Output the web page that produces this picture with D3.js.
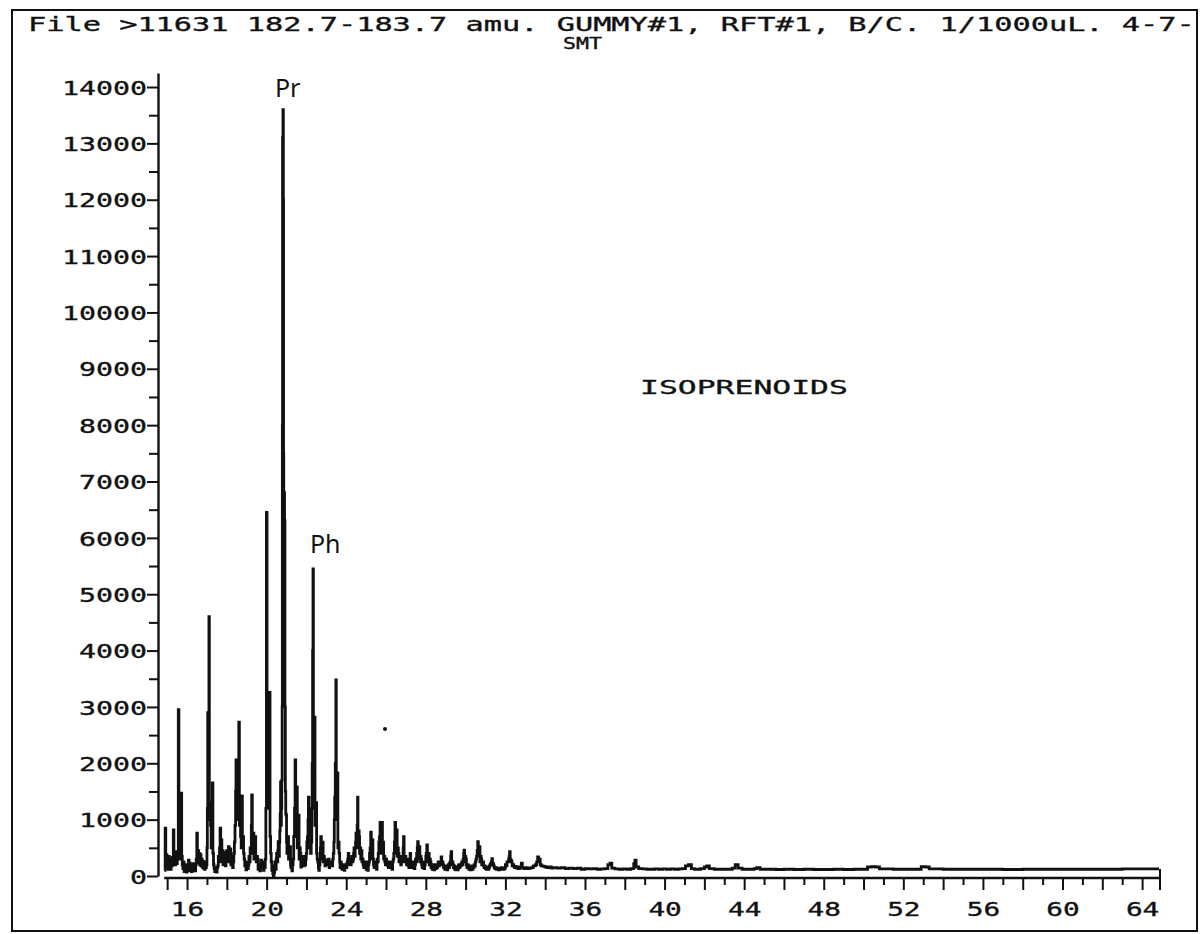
<!DOCTYPE html>
<html>
<head>
<meta charset="utf-8">
<script src="https://cdn.jsdelivr.net/npm/d3@7/dist/d3.min.js"></script>
<style>
  html, body { margin: 0; padding: 0; background: #fff; }
  svg { display: block; }
  .plot-text { font-family: "DejaVu Sans Mono", "Liberation Mono", monospace; fill: #111; stroke: #111; stroke-width: 0.35px; }
</style>
</head>
<body>
<svg id="chart" width="1202" height="934"></svg>
<script>
// ---- Header and annotations ----
const titleLine1 = "File >11631  182.7-183.7 amu. GUMMY#1, RFT#1, B/C. 1/1000uL. 4-7-";
const titleLine2 = "SMT";
const annotationText = "ISOPRENOIDS";
const peakLabels = [
  { text: "Pr", t: 20.82, v: 13600, dx: -8, dy: -13 },
  { text: "Ph", t: 22.33, v: 5450, dx: -3, dy: -16 }
];

// ---- Axis ticks ----
const yMajorTicks = [0, 1000, 2000, 3000, 4000, 5000, 6000, 7000, 8000, 9000, 10000, 11000, 12000, 13000, 14000];
const yMinorTicks = [500, 1500, 2500, 3500, 4500, 5500, 6500, 7500, 8500, 9500, 10500, 11500, 12500, 13500];
const xLongTicks = [15, 16, 18, 20, 22, 24, 26, 28, 30, 32, 34, 36, 38, 40, 42, 44, 46, 48, 50, 52, 54, 56, 58, 60, 62, 64];
const xShortTicks = [17, 19, 21, 23, 25, 27, 29, 31, 33, 35, 37, 39, 41, 43, 45, 47, 49, 51, 53, 55, 57, 59, 61, 63];
const xTickLabels = [16, 20, 24, 28, 32, 36, 40, 44, 48, 52, 56, 60, 64];

// ---- Ion trace, m/z 182.7-183.7: [retention time (min), abundance] ----
const traceEarly = [
  [14.86, 100], [14.90, 850], [14.93, 260], [14.96, 380], [14.99, 160], [15.02, 300], [15.05, 120],
  [15.08, 350], [15.11, 140], [15.14, 260], [15.17, 120], [15.20, 300], [15.23, 180], [15.26, 330],
  [15.29, 200], [15.31, 820], [15.34, 250], [15.37, 400], [15.40, 200], [15.43, 350], [15.45, 430],
  [15.48, 220], [15.51, 380], [15.53, 300], [15.56, 2950], [15.59, 600], [15.62, 380], [15.65, 500],
  [15.68, 300], [15.70, 1470], [15.73, 350], [15.76, 200], [15.79, 130], [15.82, 250], [15.85, 80],
  [15.88, 160], [15.91, 90], [15.94, 200], [15.97, 70], [16.00, 120], [16.03, 90], [16.05, 180],
  [16.07, 280], [16.10, 110], [16.13, 230], [16.16, 100], [16.19, 200], [16.22, 80], [16.25, 180],
  [16.28, 100], [16.31, 220], [16.34, 90], [16.37, 140], [16.40, 90], [16.43, 200], [16.46, 300],
  [16.49, 760], [16.52, 280], [16.55, 450], [16.58, 230], [16.61, 400], [16.64, 200], [16.67, 380],
  [16.70, 180], [16.73, 300], [16.76, 160], [16.79, 260], [16.82, 140], [16.85, 220], [16.88, 120],
  [16.91, 250], [16.94, 150], [16.97, 200], [17.00, 500], [17.02, 1200], [17.04, 2900], [17.06, 1200],
  [17.08, 2000], [17.10, 4600], [17.12, 1300], [17.15, 1000], [17.18, 900], [17.21, 500], [17.24, 800],
  [17.27, 1650], [17.30, 400], [17.33, 200], [17.36, 130], [17.39, 80], [17.42, 150], [17.45, 100],
  [17.48, 70], [17.51, 150], [17.54, 180], [17.57, 350], [17.60, 250], [17.63, 500], [17.66, 850],
  [17.69, 300], [17.72, 640], [17.75, 250], [17.78, 450], [17.81, 200], [17.84, 420], [17.87, 220],
  [17.90, 380], [17.93, 180], [17.96, 260], [17.99, 450], [18.02, 300], [18.05, 400], [18.08, 520],
  [18.11, 250], [18.14, 380], [18.17, 480], [18.20, 200], [18.23, 300], [18.26, 350], [18.29, 150],
  [18.32, 250], [18.35, 400], [18.38, 600], [18.41, 900], [18.44, 1500], [18.46, 2060], [18.49, 1000],
  [18.52, 1300], [18.55, 1600], [18.58, 2000], [18.60, 2730], [18.63, 900], [18.66, 1100], [18.69, 700],
  [18.72, 500], [18.75, 1420], [18.78, 500], [18.81, 700], [18.84, 400], [18.87, 300], [18.90, 180],
  [18.93, 250], [18.96, 110], [18.99, 200], [19.02, 230], [19.05, 130], [19.08, 200], [19.11, 350],
  [19.14, 250], [19.17, 500], [19.20, 400], [19.23, 900], [19.25, 1440], [19.28, 400], [19.31, 600],
  [19.33, 760], [19.36, 300], [19.39, 500], [19.42, 700], [19.45, 300], [19.48, 250], [19.51, 350],
  [19.54, 300], [19.57, 120], [19.60, 200], [19.63, 150], [19.66, 90], [19.69, 200], [19.72, 280],
  [19.75, 150], [19.78, 220], [19.81, 250], [19.84, 100], [19.87, 200], [19.90, 150], [19.93, 300],
  [19.96, 1200], [19.99, 6450], [20.02, 1500], [20.05, 1200], [20.08, 2000], [20.11, 1800], [20.14, 3260],
  [20.17, 700], [20.20, 400], [20.23, 250], [20.26, 100], [20.29, 150], [20.31, 40]
];
const traceIsoprenoids = [
  [20.34, 0], [20.37, 60], [20.40, 180], [20.42, 250], [20.45, 120], [20.48, 300], [20.50, 400],
  [20.53, 250], [20.56, 450], [20.58, 610], [20.61, 350], [20.64, 600], [20.66, 800], [20.68, 1100],
  [20.70, 1670], [20.72, 900], [20.74, 1200], [20.76, 1700], [20.78, 3000], [20.79, 8000], [20.80, 13100],
  [20.82, 13600], [20.84, 12000], [20.85, 7500], [20.86, 6800], [20.88, 6800], [20.90, 6300], [20.92, 3000],
  [20.94, 1500], [20.96, 1100], [20.98, 1080], [21.00, 600], [21.02, 400], [21.05, 550], [21.07, 700],
  [21.10, 300], [21.13, 450], [21.17, 520], [21.20, 200], [21.22, 150], [21.25, 250], [21.27, 90],
  [21.30, 200], [21.33, 300], [21.36, 700], [21.40, 1200], [21.43, 2060], [21.46, 800], [21.49, 1200],
  [21.51, 1580], [21.54, 500], [21.57, 700], [21.60, 1080], [21.63, 300], [21.66, 500], [21.69, 400],
  [21.72, 160], [21.75, 350], [21.78, 300], [21.81, 180], [21.84, 250], [21.87, 180], [21.90, 350],
  [21.93, 200], [21.96, 300], [21.99, 400], [22.02, 600], [22.05, 700], [22.08, 1000], [22.10, 1400],
  [22.13, 500], [22.16, 600], [22.18, 760], [22.21, 400], [22.24, 600], [22.27, 1200], [22.29, 2000],
  [22.31, 4000], [22.33, 5450], [22.35, 1500], [22.38, 2000], [22.40, 2820], [22.43, 900], [22.46, 1000],
  [22.48, 1300], [22.51, 400], [22.54, 300], [22.57, 250], [22.60, 150], [22.62, 100], [22.65, 200],
  [22.68, 300], [22.70, 500], [22.72, 700], [22.75, 300], [22.78, 450], [22.81, 600], [22.84, 250],
  [22.87, 350], [22.90, 300], [22.93, 180], [22.96, 280], [22.99, 200], [23.02, 280], [23.05, 200],
  [23.08, 250], [23.11, 300], [23.14, 150], [23.17, 220], [23.20, 250], [23.23, 180], [23.26, 250],
  [23.29, 180], [23.32, 300], [23.35, 400], [23.38, 600], [23.40, 1000], [23.42, 1400], [23.45, 2000],
  [23.48, 3480], [23.50, 1000], [23.53, 1400], [23.55, 1830], [23.58, 500], [23.61, 600], [23.64, 400],
  [23.67, 250], [23.69, 150], [23.72, 250], [23.75, 200], [23.78, 120], [23.81, 200], [23.84, 160],
  [23.87, 200], [23.90, 100], [23.93, 180], [23.96, 200], [24.00, 150]
];
const traceMiddle = [
  [24.03, 220], [24.05, 250], [24.08, 300], [24.10, 400], [24.13, 200], [24.16, 280], [24.19, 300],
  [24.22, 200], [24.25, 250], [24.28, 350], [24.31, 250], [24.34, 300], [24.37, 400], [24.39, 500],
  [24.42, 350], [24.45, 500], [24.47, 600], [24.49, 760], [24.51, 500], [24.53, 700], [24.55, 900],
  [24.57, 1400], [24.59, 700], [24.61, 600], [24.63, 800], [24.65, 700], [24.67, 400], [24.70, 500],
  [24.73, 300], [24.76, 450], [24.79, 250], [24.82, 300], [24.85, 200], [24.88, 150], [24.91, 250],
  [24.94, 180], [24.97, 250], [25.00, 120], [25.03, 180], [25.06, 200], [25.08, 100], [25.11, 200],
  [25.14, 250], [25.17, 400], [25.20, 500], [25.23, 780], [25.26, 300], [25.29, 450], [25.31, 640],
  [25.34, 300], [25.37, 200], [25.40, 150], [25.43, 250], [25.46, 200], [25.49, 250], [25.52, 120],
  [25.55, 300], [25.58, 250], [25.61, 400], [25.64, 600], [25.67, 700], [25.70, 950], [25.73, 400],
  [25.76, 600], [25.79, 950], [25.82, 500], [25.85, 600], [25.88, 300], [25.91, 350], [25.94, 250],
  [25.97, 200], [26.00, 300], [26.03, 200], [26.06, 250], [26.09, 180], [26.12, 150], [26.15, 250],
  [26.18, 200], [26.21, 150], [26.24, 250], [26.27, 200], [26.30, 120], [26.33, 250], [26.36, 300],
  [26.39, 400], [26.42, 600], [26.45, 950], [26.48, 400], [26.51, 600], [26.53, 820], [26.56, 350],
  [26.59, 500], [26.62, 400], [26.65, 250], [26.68, 350], [26.71, 300], [26.74, 200], [26.77, 250],
  [26.80, 350], [26.83, 300], [26.86, 500], [26.88, 700], [26.91, 300], [26.94, 250], [26.97, 350],
  [27.00, 300], [27.03, 200], [27.06, 300], [27.09, 250], [27.12, 180], [27.15, 150], [27.18, 300],
  [27.21, 400], [27.24, 200], [27.27, 250], [27.30, 150], [27.33, 200], [27.36, 250], [27.39, 180],
  [27.42, 130], [27.45, 200], [27.48, 300], [27.51, 250], [27.54, 400], [27.57, 500], [27.59, 610],
  [27.62, 300], [27.65, 450], [27.67, 520], [27.70, 250], [27.73, 350], [27.76, 300], [27.79, 200],
  [27.82, 150], [27.85, 250], [27.88, 200], [27.91, 130], [27.94, 200], [27.97, 250], [28.00, 350],
  [28.02, 400], [28.05, 550], [28.08, 250], [28.11, 300], [28.14, 400], [28.17, 200], [28.20, 300],
  [28.23, 250], [28.26, 150], [28.29, 200], [28.32, 120], [28.35, 200], [28.38, 180], [28.41, 110],
  [28.44, 180], [28.47, 200], [28.50, 130], [28.53, 180], [28.56, 150], [28.59, 200], [28.62, 250],
  [28.65, 180], [28.68, 250], [28.71, 200], [28.74, 250], [28.77, 340], [28.80, 200], [28.83, 250],
  [28.86, 200], [28.89, 150], [28.92, 180], [28.95, 120], [28.98, 160], [29.01, 130], [29.04, 180],
  [29.07, 110], [29.10, 160], [29.13, 200], [29.16, 150], [29.19, 220], [29.22, 250], [29.25, 350],
  [29.27, 430], [29.30, 200], [29.33, 250], [29.36, 200], [29.39, 150], [29.42, 180], [29.45, 120],
  [29.48, 150], [29.51, 110], [29.54, 160], [29.57, 130], [29.60, 110], [29.63, 180], [29.66, 200],
  [29.69, 150], [29.72, 200], [29.75, 180], [29.78, 220], [29.81, 250], [29.84, 200], [29.87, 300],
  [29.90, 400], [29.92, 460], [29.95, 250], [29.98, 350], [30.01, 300], [30.04, 200], [30.07, 150],
  [30.10, 200], [30.13, 150], [30.16, 120], [30.19, 180], [30.22, 130], [30.25, 110], [30.28, 150],
  [30.31, 180], [30.34, 120], [30.37, 160], [30.40, 150], [30.43, 200], [30.46, 180], [30.49, 250],
  [30.52, 300], [30.55, 350], [30.58, 450], [30.61, 610], [30.64, 400], [30.67, 450], [30.69, 520],
  [30.72, 250], [30.75, 350], [30.78, 300], [30.81, 200], [30.84, 250], [30.87, 250], [30.90, 180],
  [30.93, 150], [30.96, 180], [30.99, 130], [31.02, 150], [31.05, 120], [31.08, 140], [31.11, 160],
  [31.14, 120], [31.17, 150], [31.20, 180], [31.23, 200], [31.26, 220], [31.29, 250], [31.32, 310],
  [31.35, 200], [31.38, 220], [31.41, 180], [31.44, 150], [31.47, 130], [31.50, 150], [31.55, 120],
  [31.60, 140], [31.65, 110], [31.70, 130], [31.75, 120], [31.80, 150], [31.85, 130], [31.90, 120],
  [31.95, 140], [32.00, 200], [32.04, 180], [32.08, 250], [32.12, 250], [32.16, 300], [32.19, 350],
  [32.21, 430], [32.24, 300], [32.27, 280], [32.30, 250], [32.34, 180], [32.38, 200], [32.42, 170],
  [32.46, 150], [32.50, 170], [32.55, 140], [32.60, 150], [32.65, 130], [32.70, 160], [32.75, 140],
  [32.80, 230], [32.85, 150], [32.90, 140], [32.95, 130], [33.00, 150], [33.10, 130], [33.20, 140],
  [33.30, 150], [33.40, 180], [33.50, 200], [33.57, 250], [33.62, 340], [33.67, 250], [33.71, 300],
  [33.75, 200], [33.80, 180], [33.90, 170]
];
const traceLate = [
  [34.00, 160], [34.10, 150], [34.20, 160], [34.30, 140], [34.40, 150], [34.60, 140], [34.80, 150],
  [35.00, 130], [35.20, 140], [35.40, 130], [35.60, 140], [35.80, 120], [36.00, 130], [36.20, 125],
  [36.40, 130], [36.60, 120], [36.80, 125], [37.00, 130], [37.15, 200], [37.26, 230], [37.35, 140],
  [37.50, 125], [37.70, 120], [37.90, 125], [38.10, 120], [38.30, 130], [38.45, 220], [38.51, 280],
  [38.57, 160], [38.70, 130], [38.90, 125], [39.10, 120], [39.30, 120], [39.50, 125], [39.70, 120],
  [39.90, 125], [40.10, 120], [40.30, 125], [40.50, 120], [40.70, 125], [40.90, 130], [41.05, 180],
  [41.20, 200], [41.35, 130], [41.50, 120], [41.80, 130], [42.00, 160], [42.12, 180], [42.25, 130],
  [42.50, 120], [42.80, 120], [43.10, 120], [43.40, 140], [43.55, 200], [43.70, 140], [43.90, 120],
  [44.20, 120], [44.50, 130], [44.63, 150], [44.80, 120], [45.20, 120], [45.60, 115], [46.00, 120],
  [46.50, 115], [47.00, 120], [47.50, 115], [48.00, 115], [48.50, 120], [49.00, 115], [49.50, 120],
  [50.00, 120], [50.20, 160], [50.40, 165], [50.60, 160], [50.80, 125], [51.50, 120], [52.00, 120],
  [52.50, 120], [52.90, 165], [53.10, 160], [53.30, 125], [54.00, 120], [55.00, 120], [56.00, 120],
  [57.00, 115], [58.00, 120], [59.00, 120], [60.00, 120], [61.00, 120], [62.00, 120], [63.00, 125],
  [64.00, 125], [64.85, 125]
];

const trace = [].concat(traceEarly, traceIsoprenoids, traceMiddle, traceLate);

// ---- Scales ----
const svg = d3.select("#chart");
const axisTopValue = 14250;
const x = d3.scaleLinear().domain([14.54, 64.9]).range([158, 1160]);
const y = d3.scaleLinear().domain([0, axisTopValue]).range([876, 876 - axisTopValue * 789 / 14000]);

const ink = "#111";

// Page frame
svg.append("rect")
  .attr("x", 12).attr("y", 10).attr("width", 1185).attr("height", 921)
  .attr("fill", "none").attr("stroke", ink).attr("stroke-width", 2);

// Monospaced plotter lettering, stretched to the plotter's character pitch
function plotterText(sel, str, pitch) {
  return sel.text(str)
    .attr("class", "plot-text")
    .attr("textLength", str.length * pitch)
    .attr("lengthAdjust", "spacingAndGlyphs");
}

plotterText(svg.append("text").attr("x", 28).attr("y", 31).attr("font-size", 20), titleLine1, 17.95);
plotterText(svg.append("text").attr("x", 563).attr("y", 49).attr("font-size", 15), titleLine2, 13);

// Y axis
const yAxis = svg.append("g").attr("transform", "translate(158,0)");
yAxis.call(d3.axisLeft(y).tickValues(yMajorTicks).tickSize(11).tickSizeOuter(0).tickPadding(0).tickFormat(d3.format("d")));
yAxis.select(".domain").attr("stroke", ink).attr("stroke-width", 2.4);
yAxis.selectAll(".tick line").attr("stroke", ink).attr("stroke-width", 2);
yAxis.selectAll(".tick text")
  .attr("class", "plot-text")
  .attr("font-size", 20)
  .attr("x", -11)
  .attr("dy", "0.36em")
  .each(function (d) {
    const s = String(d);
    d3.select(this).attr("textLength", s.length * 17).attr("lengthAdjust", "spacingAndGlyphs");
  });

const yMinor = svg.append("g").attr("transform", "translate(158,0)");
yMinor.call(d3.axisLeft(y).tickValues(yMinorTicks).tickSize(9).tickFormat(""));
yMinor.select(".domain").remove();
yMinor.selectAll(".tick line").attr("stroke", ink).attr("stroke-width", 2);

// X axis
const xAxisY = 878;
svg.append("line")
  .attr("x1", x(14.85)).attr("x2", x(64.9))
  .attr("y1", xAxisY).attr("y2", xAxisY)
  .attr("stroke", ink).attr("stroke-width", 2.4);

const xLong = svg.append("g").attr("transform", `translate(0,${xAxisY})`);
xLong.call(d3.axisBottom(x).tickValues(xLongTicks).tickSize(12).tickPadding(8)
  .tickFormat(d => xTickLabels.includes(d) ? String(d) : ""));
xLong.select(".domain").remove();
xLong.selectAll(".tick line").attr("stroke", ink).attr("stroke-width", 2);
xLong.selectAll(".tick text")
  .attr("class", "plot-text")
  .attr("font-size", 20)
  .attr("dy", "0.9em")
  .each(function (d) {
    const s = xTickLabels.includes(d) ? String(d) : "";
    if (s) d3.select(this).attr("textLength", s.length * 16.7).attr("lengthAdjust", "spacingAndGlyphs");
  });

const xShort = svg.append("g").attr("transform", `translate(0,${xAxisY})`);
xShort.call(d3.axisBottom(x).tickValues(xShortTicks).tickSize(7).tickFormat(""));
xShort.select(".domain").remove();
xShort.selectAll(".tick line").attr("stroke", ink).attr("stroke-width", 2);

// End-of-run marker on the time axis
svg.append("line")
  .attr("x1", x(64.9)).attr("x2", x(64.9))
  .attr("y1", y(125)).attr("y2", xAxisY + 12)
  .attr("stroke", ink).attr("stroke-width", 2);

// Ion chromatogram trace (plotter steps between samples)
const line = d3.line().curve(d3.curveStepAfter).x(d => x(d[0])).y(d => y(d[1]));
svg.append("path")
  .datum(trace)
  .attr("d", line)
  .attr("fill", "none")
  .attr("stroke", ink)
  .attr("stroke-width", 2.8)
  .attr("stroke-linejoin", "miter");

// Compound class annotation
plotterText(svg.append("text").attr("x", 640).attr("y", 394).attr("font-size", 20), annotationText, 18.9);

// Hand-written peak labels: pristane and phytane
svg.selectAll(".peak-label")
  .data(peakLabels)
  .join("text")
  .attr("class", "peak-label")
  .attr("x", d => x(d.t) + d.dx)
  .attr("y", d => y(d.v) + d.dy)
  .attr("font-family", "'Noto Sans', 'DejaVu Sans', sans-serif")
  .attr("font-size", 25)
  .attr("fill", ink)
  .text(d => d.text);

// Stray pen mark on the plot
svg.append("circle").attr("cx", 385).attr("cy", 729).attr("r", 2).attr("fill", ink);
</script>
</body>
</html>
